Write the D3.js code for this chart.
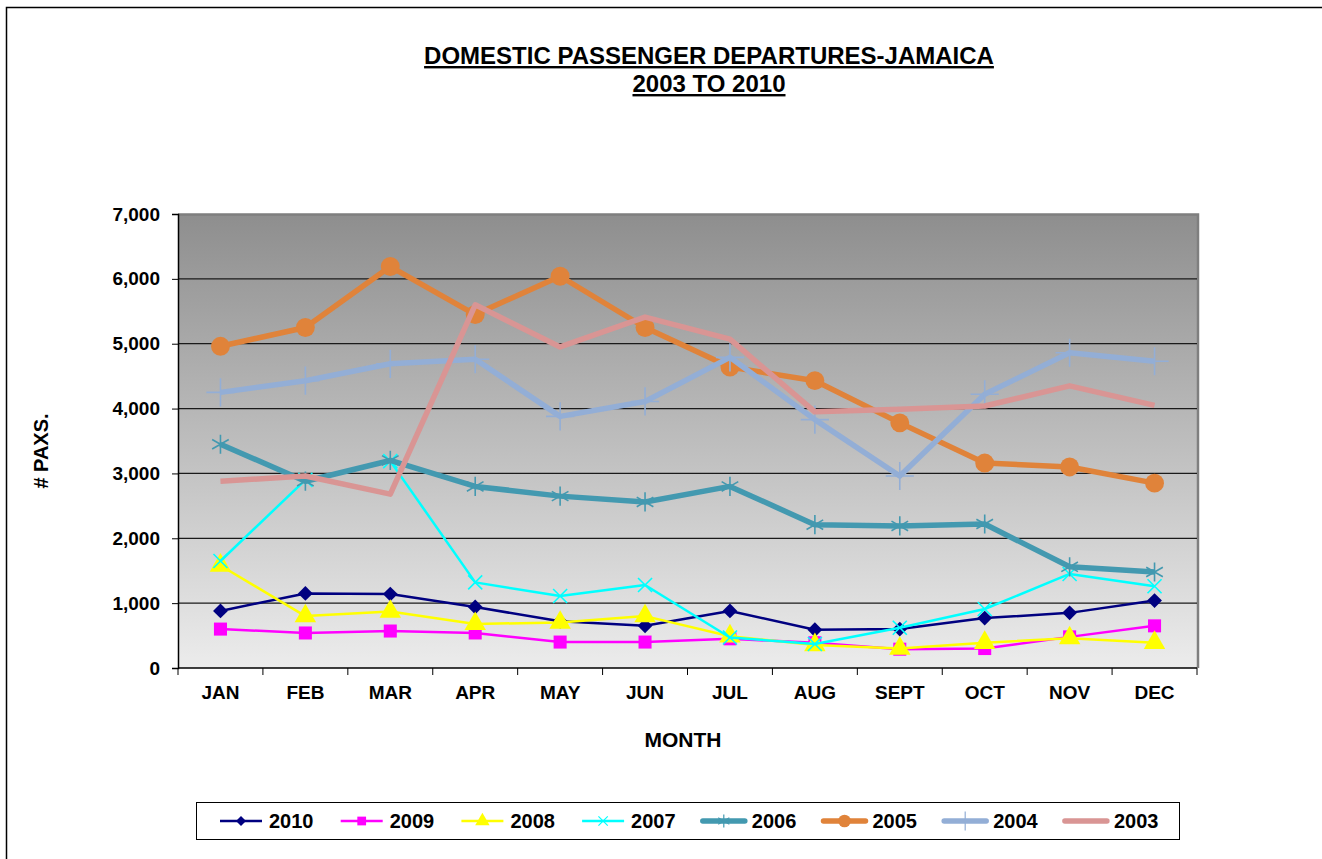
<!DOCTYPE html>
<html lang="en">
<head>
  <meta charset="UTF-8" />
  <title>Domestic Passenger Departures - Jamaica</title>
  <script src="https://d3js.org/d3.v7.min.js"></script>
  <style>
    body {
      margin: 0;
      background: #fff;
      font-family: 'Liberation Sans', Arial, sans-serif;
    }
    svg text {
      font-weight: bold;
      fill: #000;
    }
    .tick-label {
      font-size: 19px;
    }
  </style>
</head>
<body>
  <svg id="chart" width="1322" height="859"></svg>

  <script>
    // Categories
    const months = ["JAN", "FEB", "MAR", "APR", "MAY", "JUN", "JUL", "AUG", "SEPT", "OCT", "NOV", "DEC"];
    const yTicks = [0, 1000, 2000, 3000, 4000, 5000, 6000, 7000];

    // Series values
    const years = ["2010", "2009", "2008", "2007", "2006", "2005", "2004", "2003"];
    const v2010 = [880, 1150, 1140, 940, 720, 650, 880, 590, 600, 770, 850, 1040];
    const v2009 = [600, 540, 570, 540, 400, 400, 450, 390, 290, 300, 480, 650];
    const v2008 = [1580, 800, 870, 680, 700, 800, 490, 355, 300, 390, 460, 390];
    const v2007 = [1650, 2900, 3190, 1320, 1110, 1280, 470, 370, 620, 910, 1450, 1260];
    const v2006 = [3450, 2880, 3200, 2800, 2650, 2560, 2800, 2210, 2190, 2220, 1560, 1480];
    const v2005 = [4960, 5250, 6190, 5450, 6040, 5250, 4640, 4430, 3780, 3160, 3100, 2850];
    const v2004 = [4250, 4430, 4690, 4760, 3880, 4110, 4790, 3830, 2960, 4220, 4860, 4730];
    const v2003 = [2880, 2960, 2680, 5600, 4950, 5410, 5070, 3950, 3990, 4040, 4350, 4050];
    const seriesValues = [v2010, v2009, v2008, v2007, v2006, v2005, v2004, v2003];

    // Look of each series (Excel defaults)
    const colors = ["#000080", "#ff00ff", "#ffff00", "#00ffff", "#4399b0", "#e0833a", "#93aed6", "#d99594"];
    const widths = [2.5, 2.5, 2.5, 2.5, 5.5, 5.5, 5.5, 5.5];
    const markers = [d3.symbolSquare, d3.symbolSquare, d3.symbolTriangle, d3.symbolTimes,
                     d3.symbolAsterisk, d3.symbolCircle, d3.symbolPlus, null];
    const markerRotate = [45, 0, 0, 0, 0, 0, 0, 0];
    const markerSize = [110, 170, 200, 130, 260, 280, 260, 0];
    const strokeMarker = [false, false, false, true, true, false, true, false];

    const svg = d3.select("#chart");

    const margin = { top: 214, left: 178, right: 125, bottom: 191 };
    const width = 1322 - margin.left - margin.right;   // 1019
    const height = 859 - margin.top - margin.bottom;   // 454

    // outer chart border
    svg.append("rect")
      .attr("x", 6.5).attr("y", 7.5)
      .attr("width", 1400).attr("height", 1000)
      .attr("fill", "none")
      .attr("stroke", "#000")
      .attr("stroke-width", 1.5);

    // gradient for plot area
    const defs = svg.append("defs");
    const grad = defs.append("linearGradient")
      .attr("id", "plotBg")
      .attr("x1", 0).attr("y1", 0).attr("x2", 0).attr("y2", 1);
    grad.append("stop").attr("offset", "0%").attr("stop-color", "#8e8e8e");
    grad.append("stop").attr("offset", "100%").attr("stop-color", "#ececec");

    const g = svg.append("g")
      .attr("transform", `translate(${margin.left},${margin.top})`);

    const x = d3.scaleBand().domain(months).range([0, width]).paddingInner(0).paddingOuter(0);
    const y = d3.scaleLinear().domain([0, 7000]).range([height, 0]);
    const cx = m => x(m) + x.bandwidth() / 2;

    // plot background
    g.append("rect")
      .attr("width", width).attr("height", height)
      .attr("fill", "url(#plotBg)");

    // plot area edges (top / right gray)
    g.append("path")
      .attr("d", `M0,0.5H${width + 1}V${height}`)
      .attr("fill", "none")
      .attr("stroke", "#7f7f7f")
      .attr("stroke-width", 2.5);

    // gridlines
    g.append("g")
      .selectAll("line")
      .data(yTicks.filter(d => d > 0 && d < 7000))
      .join("line")
      .attr("x1", 0).attr("x2", width)
      .attr("y1", d => y(d)).attr("y2", d => y(d))
      .attr("stroke", "#1a1a1a")
      .attr("stroke-width", 1.3);

    // y axis
    const yAxis = d3.axisLeft(y)
      .tickValues(yTicks)
      .tickSize(6)
      .tickPadding(12)
      .tickFormat(d3.format(","));
    const yG = g.append("g").call(yAxis);
    yG.select(".domain").attr("stroke", "#000").attr("stroke-width", 1.5);
    yG.selectAll(".tick line").attr("stroke", "#000");
    yG.selectAll("text").attr("class", "tick-label").style("font-family", "'Liberation Sans', Arial, sans-serif");

    // x axis: ticks on band boundaries
    const xG = g.append("g").attr("transform", `translate(0,${height})`);
    xG.append("line")
      .attr("x1", 0).attr("x2", width)
      .attr("stroke", "#000").attr("stroke-width", 1.5);
    xG.selectAll(".xtick")
      .data(months.concat(["end"]))
      .join("line")
      .attr("class", "xtick")
      .attr("x1", (d, i) => i < months.length ? x(d) : width)
      .attr("x2", (d, i) => i < months.length ? x(d) : width)
      .attr("y1", 0).attr("y2", 7)
      .attr("stroke", "#000");
    xG.selectAll(".xlabel")
      .data(months)
      .join("text")
      .attr("class", "xlabel tick-label")
      .attr("x", d => cx(d))
      .attr("y", 31)
      .attr("text-anchor", "middle")
      .text(d => d);

    // series
    const line = d3.line()
      .x((d, i) => cx(months[i]))
      .y(d => y(d));

    years.forEach((yr, s) => {
      const sg = g.append("g").attr("class", "series-" + yr);
      sg.append("path")
        .datum(seriesValues[s])
        .attr("d", line)
        .attr("fill", "none")
        .attr("stroke", colors[s])
        .attr("stroke-width", widths[s])
        .attr("stroke-linejoin", "round");

      if (markers[s]) {
        const sym = d3.symbol().type(markers[s]).size(markerSize[s]);
        sg.selectAll("path.mk")
          .data(seriesValues[s])
          .join("path")
          .attr("class", "mk")
          .attr("d", sym)
          .attr("transform", (d, i) => `translate(${cx(months[i])},${y(d)}) rotate(${markerRotate[s]})`)
          .attr("fill", strokeMarker[s] ? "none" : colors[s])
          .attr("stroke", strokeMarker[s] ? colors[s] : "none")
          .attr("stroke-width", 1.6);
      }
    });

    // titles
    const title = svg.append("text")
      .attr("x", 709)
      .attr("text-anchor", "middle")
      .style("font-size", "24px")
      .style("text-decoration", "underline");
    title.append("tspan").attr("x", 709).attr("y", 64).text("DOMESTIC PASSENGER  DEPARTURES-JAMAICA");
    title.append("tspan").attr("x", 709).attr("y", 92).text("2003 TO 2010");

    svg.append("text")
      .attr("x", 683).attr("y", 747)
      .attr("text-anchor", "middle")
      .style("font-size", "21px")
      .text("MONTH");

    svg.append("text")
      .attr("transform", "translate(48,451) rotate(-90)")
      .attr("text-anchor", "middle")
      .style("font-size", "20px")
      .text("# PAXS.");

    // legend
    const legend = svg.append("g");
    legend.append("rect")
      .attr("x", 196.5).attr("y", 802.5)
      .attr("width", 983).attr("height", 37)
      .attr("fill", "#fff")
      .attr("stroke", "#000");

    const step = 120.7;
    years.forEach((yr, s) => {
      const lx = 220 + step * s;
      const ly = 821;
      const lg = legend.append("g");
      lg.append("line")
        .attr("x1", lx).attr("x2", lx + 42)
        .attr("y1", ly).attr("y2", ly)
        .attr("stroke", colors[s])
        .attr("stroke-width", widths[s])
        .attr("stroke-linecap", s >= 4 ? "round" : "butt");
      if (markers[s]) {
        lg.append("path")
          .attr("d", d3.symbol().type(markers[s]).size(markerSize[s] * 0.45)())
          .attr("transform", `translate(${lx + 21},${ly}) rotate(${markerRotate[s]})`)
          .attr("fill", strokeMarker[s] ? "none" : colors[s])
          .attr("stroke", strokeMarker[s] ? colors[s] : "none")
          .attr("stroke-width", 1.2);
      }
      lg.append("text")
        .attr("x", lx + 49)
        .attr("y", ly + 7)
        .style("font-size", "20px")
        .text(yr);
    });
  </script>
</body>
</html>
